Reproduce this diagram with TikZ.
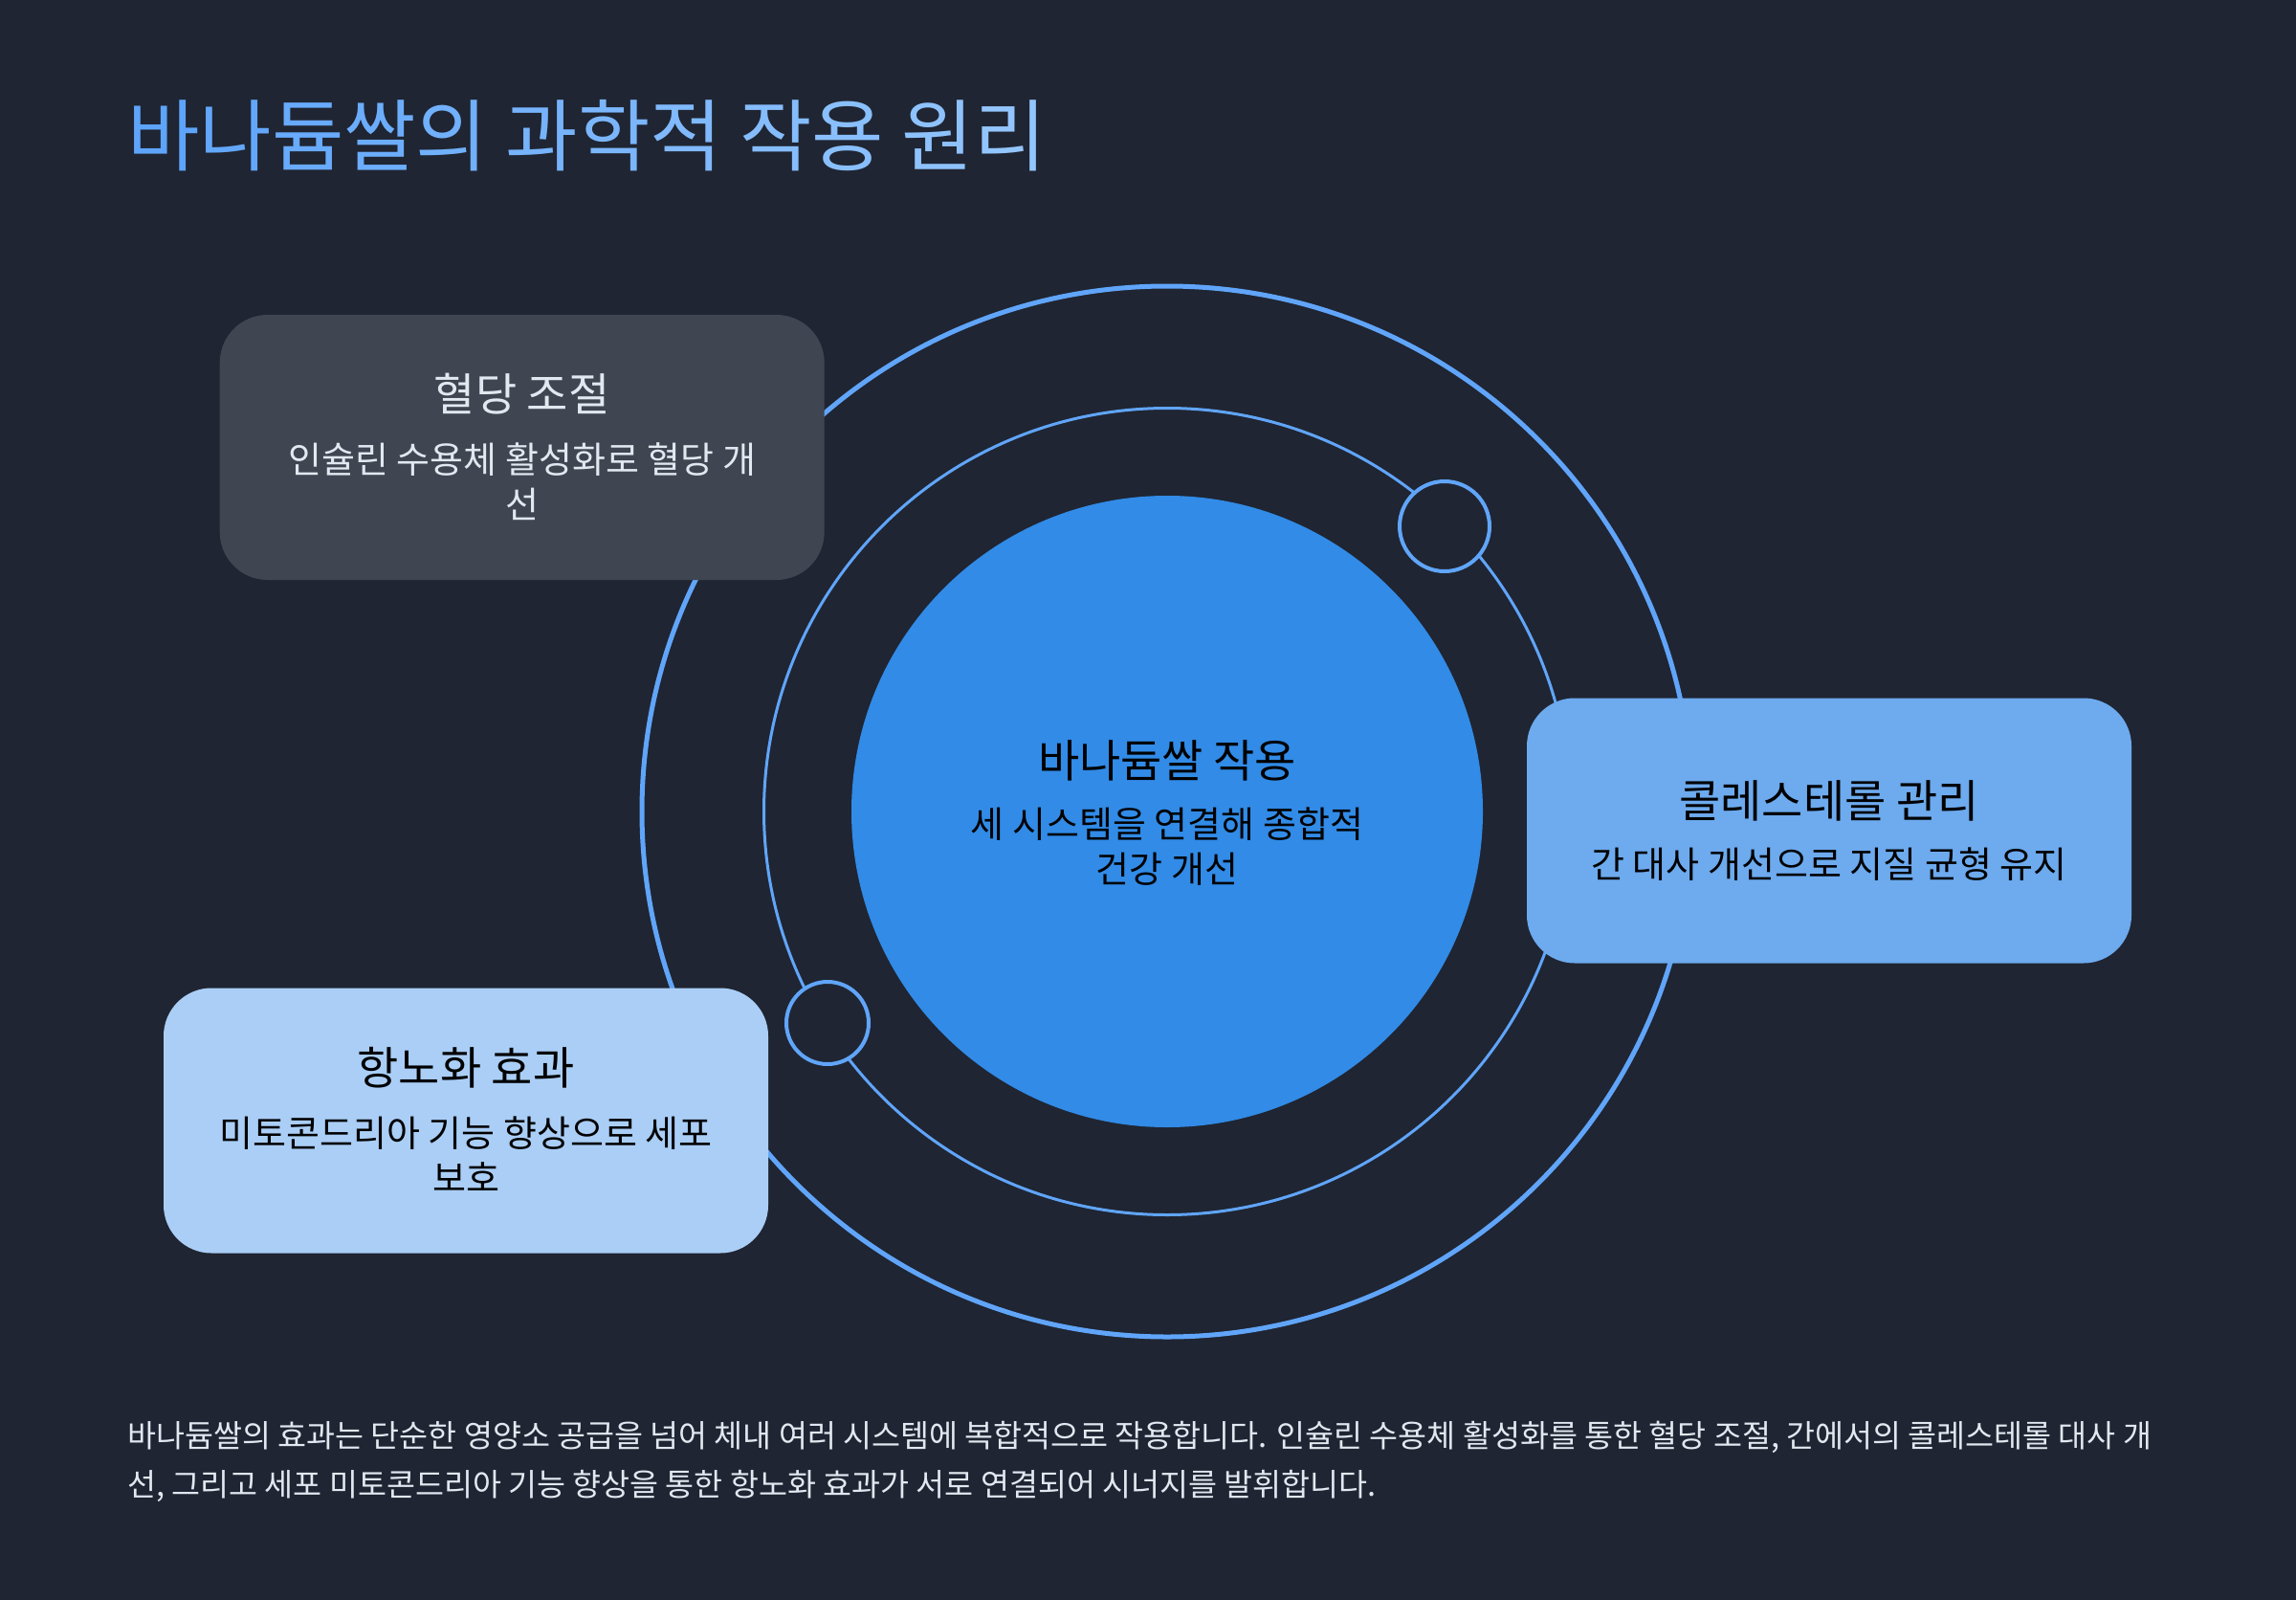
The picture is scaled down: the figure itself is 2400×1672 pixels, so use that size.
\documentclass[tikz,border=0pt]{standalone}
\usepackage{fontspec}
\setmainfont{Noto Sans CJK KR}
\definecolor{bg}{HTML}{1F2532}
\definecolor{ringc}{HTML}{60A5FA}
\definecolor{corec}{HTML}{318BE7}
\definecolor{boxa}{HTML}{3F4551}
\definecolor{boxb}{HTML}{6DAAEE}
\definecolor{boxc}{HTML}{AACEF6}
\definecolor{lighttext}{HTML}{E2E8F0}
\definecolor{tA}{HTML}{5EA4FA}
\definecolor{tB}{HTML}{93C5FD}
\newcommand\gc[2]{\textcolor{tB!#1!tA}{#2}}
\begin{document}
\begin{tikzpicture}[x=1pt,y=-1pt,
  ringstyle/.style={circle,draw=ringc,inner sep=0pt,outer sep=0pt},
  dotring/.style={circle,draw=ringc,fill=bg,line width=4pt,inner sep=0pt},
  cardbox/.style={rectangle,rounded corners=50pt,minimum width=632pt,minimum height=277pt,inner sep=0pt},
  cardtitle/.style={inner sep=0pt,font=\fontsize{47}{56}\selectfont},
  cardsub/.style={inner sep=0pt,align=center,font=\fontsize{38}{47}\selectfont},
]
\useasboundingbox (0,0) rectangle (2400,1672);
\fill[bg] (0,0) rectangle (2400,1672);

% title
\node[anchor=west,inner sep=0pt,font=\fontsize{82}{98}\selectfont] (title) at (133,141.5)
  {\gc{0}{바}\gc{9}{나}\gc{18}{듐}\gc{27}{쌀}\gc{36}{의} \gc{45}{과}\gc{55}{학}\gc{64}{적} \gc{73}{작}\gc{82}{용} \gc{91}{원}\gc{100}{리}};

% rings
\node[ringstyle,line width=5pt,minimum size=1098pt] (outer) at (1220,848) {};
\node[ringstyle,line width=3pt,minimum size=843pt] (middle) at (1220,848) {};
\node[dotring,minimum size=94pt] (dotA) at (1510,550) {};
\node[dotring,minimum size=86pt] (dotB) at (865,1069) {};

% core
\node[circle,fill=corec,minimum size=660pt,inner sep=0pt] (core) at (1220,848) {};
\node[cardtitle,text=black] (coret) at (1220,795) {바나듐쌀 작용};
\node[cardsub,text=black] (cores) at (1220,885) {세 시스템을 연결해 종합적\\건강 개선};

% cards
\node[cardbox,fill=boxa] (card1) at (545.7,467.5) {};
\node[cardtitle,text=lighttext] (card1t) at (545.7,412) {혈당 조절};
\node[cardsub,text=lighttext] (card1s) at (545.7,503) {인슐린 수용체 활성화로 혈당 개\\선};

\node[cardbox,fill=boxb] (card2) at (1912,868) {};
\node[cardtitle,text=black] (card2t) at (1912,837) {콜레스테롤 관리};
\node[cardsub,text=black] (card2s) at (1912,903) {간 대사 개선으로 지질 균형 유지};

\node[cardbox,fill=boxc] (card3) at (487,1171) {};
\node[cardtitle,text=black] (card3t) at (487,1116) {항노화 효과};
\node[cardsub,text=black] (card3s) at (487,1206) {미토콘드리아 기능 향상으로 세포\\보호};

% bottom paragraph
\node[anchor=west,inner sep=0pt,align=left,text=lighttext,font=\fontsize{32.6}{51}\selectfont] (para) at (133,1527)
  {바나듐쌀의 효과는 단순한 영양소 공급을 넘어 체내 여러 시스템에 복합적으로 작용합니다. 인슐린 수용체 활성화를 통한 혈당 조절, 간에서의 콜레스테롤 대사 개\\선, 그리고 세포 미토콘드리아 기능 향상을 통한 항노화 효과가 서로 연결되어 시너지를 발휘합니다.};
\end{tikzpicture}
\end{document}
